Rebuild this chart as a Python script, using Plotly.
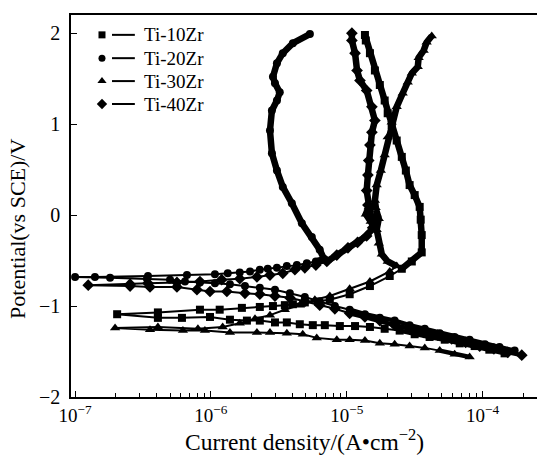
import plotly.graph_objects as go

# ---------------- data (current density in A/cm^2, potential in V vs SCE) ----------------
# Each curve: cathodic branch (from most negative potential up to Ecorr) + anodic branch
series_names = ["Ti-10Zr", "Ti-20Zr", "Ti-30Zr", "Ti-40Zr"]
symbols = ["square", "circle", "triangle-up", "diamond"]

i10_cath = [1.45e-4, 1.12e-4, 8.73e-5, 6.78e-5, 5.26e-5, 4.07e-5, 3.16e-5, 2.45e-5, 1.90e-5, 1.48e-5,
            1.15e-5, 8.89e-6, 6.89e-6, 5.62e-6, 4.51e-6, 3.62e-6, 2.96e-6, 2.29e-6, 1.84e-6, 1.38e-6,
            9.84e-7, 6.12e-7, 4.07e-7, 2.04e-7]
E10_cath = [-1.52, -1.48, -1.44, -1.41, -1.37, -1.34, -1.31, -1.27, -1.25, -1.23,
            -1.22, -1.22, -1.21, -1.21, -1.20, -1.18, -1.18, -1.16, -1.16, -1.15,
            -1.12, -1.13, -1.13, -1.09]
i10_anod = [4.07e-7, 8.30e-7, 1.16e-6, 1.69e-6, 2.29e-6, 2.86e-6, 3.50e-6, 4.01e-6, 4.91e-6, 6.12e-6,
            7.50e-6, 1.05e-5, 1.48e-5, 2.07e-5, 2.54e-5, 3.01e-5, 3.56e-5, 3.56e-5, 3.50e-5, 3.44e-5,
            3.16e-5, 2.90e-5, 2.72e-5, 2.54e-5, 2.33e-5, 2.14e-5, 2.00e-5, 1.90e-5, 1.75e-5, 1.61e-5,
            1.48e-5, 1.38e-5, 1.36e-5]
E10_anod = [-1.07, -1.04, -1.04, -1.02, -1.01, -1.00, -0.99, -0.98, -0.96, -0.95,
            -0.93, -0.87, -0.78, -0.67, -0.59, -0.51, -0.41, -0.22, -0.05, 0.09,
            0.22, 0.33, 0.49, 0.64, 0.82, 0.99, 1.12, 1.26, 1.43, 1.59,
            1.78, 1.92, 1.98]

i20_cath = [1.72e-4, 1.33e-4, 1.04e-4, 8.02e-5, 6.22e-5, 4.83e-5, 3.75e-5, 2.90e-5, 2.25e-5, 1.75e-5,
            1.36e-5, 1.05e-5, 8.17e-6, 6.32e-6, 4.91e-6, 3.81e-6, 2.96e-6, 2.29e-6, 1.78e-6, 1.38e-6,
            1.07e-6, 8.30e-7, 6.44e-7, 5.00e-7, 3.38e-7, 1.81e-7, 1.00e-7]
E20_cath = [-1.49, -1.45, -1.42, -1.37, -1.34, -1.30, -1.25, -1.21, -1.16, -1.13,
            -1.09, -1.04, -1.00, -0.95, -0.90, -0.86, -0.82, -0.80, -0.78, -0.76,
            -0.75, -0.74, -0.73, -0.71, -0.70, -0.69, -0.68]
i20_anod = [1.40e-7, 3.44e-7, 6.66e-7, 1.07e-6, 1.33e-6, 1.63e-6, 1.94e-6, 2.29e-6, 2.62e-6, 3.06e-6,
            3.62e-6, 4.29e-6, 5.08e-6, 5.92e-6, 6.78e-6, 6.32e-6, 5.53e-6, 4.67e-6, 3.94e-6, 3.38e-6,
            3.06e-6, 2.81e-6, 2.72e-6, 2.81e-6, 3.06e-6, 3.21e-6, 2.96e-6, 2.86e-6, 3.06e-6, 3.38e-6,
            4.01e-6, 5.35e-6]
E20_anod = [-0.68, -0.67, -0.66, -0.65, -0.64, -0.63, -0.62, -0.60, -0.59, -0.58,
            -0.56, -0.55, -0.53, -0.51, -0.48, -0.38, -0.24, -0.09, 0.13, 0.31,
            0.49, 0.68, 0.93, 1.15, 1.26, 1.35, 1.45, 1.52, 1.67, 1.78,
            1.89, 1.99]

i30_cath = [8.02e-5, 6.22e-5, 4.83e-5, 3.75e-5, 2.90e-5, 2.25e-5, 1.75e-5, 1.36e-5, 1.05e-5, 8.44e-6,
            6.01e-6, 4.74e-6, 3.62e-6, 2.72e-6, 2.18e-6, 1.38e-6, 9.03e-7, 6.22e-7, 3.56e-7, 1.97e-7]
E30_cath = [-1.56, -1.53, -1.49, -1.46, -1.44, -1.42, -1.41, -1.38, -1.37, -1.37,
            -1.35, -1.31, -1.30, -1.29, -1.29, -1.29, -1.27, -1.27, -1.26, -1.24]
i30_anod = [4.07e-7, 8.02e-7, 1.22e-6, 1.63e-6, 2.11e-6, 2.72e-6, 3.50e-6, 4.51e-6, 5.82e-6, 7.50e-6,
            1.05e-5, 1.48e-5, 2.07e-5, 2.33e-5, 2.00e-5, 1.81e-5, 1.72e-5, 1.66e-5, 1.72e-5, 1.63e-5,
            1.45e-5, 1.38e-5, 1.50e-5, 1.66e-5, 1.61e-5, 1.66e-5, 1.78e-5, 1.90e-5, 2.00e-5, 2.14e-5,
            2.33e-5, 2.58e-5, 2.81e-5, 3.01e-5, 3.33e-5, 3.38e-5, 3.68e-5, 3.87e-5, 4.22e-5]
E30_anod = [-1.23, -1.25, -1.23, -1.19, -1.14, -1.10, -1.04, -0.99, -0.93, -0.89,
            -0.81, -0.73, -0.62, -0.56, -0.51, -0.43, -0.31, -0.16, -0.04, 0.08,
            0.09, 0.01, -0.07, 0.01, 0.16, 0.33, 0.49, 0.66, 0.86, 1.02,
            1.19, 1.34, 1.46, 1.56, 1.63, 1.73, 1.81, 1.90, 1.97]

i40_cath = [1.94e-4, 1.53e-4, 1.21e-4, 9.51e-5, 7.50e-5, 5.92e-5, 4.67e-5, 3.68e-5, 2.90e-5, 2.25e-5,
            1.75e-5, 1.36e-5, 1.05e-5, 8.17e-6, 6.32e-6, 4.91e-6, 3.81e-6, 2.96e-6, 2.29e-6, 1.78e-6,
            1.31e-6, 9.84e-7, 7.89e-7, 5.62e-7, 3.56e-7, 2.54e-7, 1.25e-7]
E40_cath = [-1.54, -1.51, -1.47, -1.44, -1.40, -1.36, -1.32, -1.29, -1.25, -1.21,
            -1.16, -1.12, -1.08, -1.03, -0.99, -0.95, -0.91, -0.89, -0.87, -0.86,
            -0.84, -0.84, -0.82, -0.79, -0.79, -0.78, -0.77]
i40_anod = [2.54e-7, 3.44e-7, 5.62e-7, 8.30e-7, 1.20e-6, 1.63e-6, 2.18e-6, 2.72e-6, 3.38e-6, 4.15e-6,
            4.91e-6, 5.92e-6, 7.13e-6, 8.44e-6, 1.02e-5, 1.20e-5, 1.40e-5, 1.55e-5, 1.50e-5, 1.43e-5,
            1.40e-5, 1.43e-5, 1.45e-5, 1.48e-5, 1.53e-5, 1.61e-5, 1.53e-5, 1.40e-5, 1.25e-5, 1.19e-5,
            1.15e-5, 1.09e-5, 1.09e-5]
E40_anod = [-0.76, -0.75, -0.74, -0.73, -0.71, -0.70, -0.68, -0.66, -0.64, -0.60,
            -0.58, -0.55, -0.51, -0.44, -0.36, -0.30, -0.23, -0.14, -0.03, 0.11,
            0.27, 0.44, 0.60, 0.77, 0.91, 1.04, 1.19, 1.37, 1.48, 1.59,
            1.78, 1.92, 2.00]

x_tick_vals = [1e-7, 1e-6, 1e-5, 1e-4]
x_tick_text = ["10<sup>\u22127</sup>", "10<sup>\u22126</sup>", "10<sup>\u22125</sup>", "10<sup>\u22124</sup>"]
y_tick_vals = [-2, -1, 0, 1, 2]
x_title = "Current density/(A\u2022cm<sup>\u22122</sup>)"
y_title = "Potential(vs SCE)/V"

# ---------------- figure ----------------
# (cathodic i, cathodic E, anodic i, anodic E, dense cathodic count, dense anodic start)
curves = [
    (i10_cath, E10_cath, i10_anod, E10_anod, 8, 14),
    (i20_cath, E20_cath, i20_anod, E20_anod, 12, 13),
    (i30_cath, E30_cath, i30_anod, E30_anod, 3, 13),
    (i40_cath, E40_cath, i40_anod, E40_anod, 13, 12),
]
marker_sizes = [8, 8, 9, 9]

fig = go.Figure()
for (ic, Ec, ia, Ea, m, k), name, sym, ms in zip(curves, series_names, symbols, marker_sizes):
    # densely sampled parts (markers merge into a heavy line)
    fig.add_trace(go.Scatter(x=ia[k:], y=Ea[k:], mode="lines",
                             line=dict(color="black", width=6.5), hoverinfo="skip"))
    fig.add_trace(go.Scatter(x=ic[:m], y=Ec[:m], mode="lines",
                             line=dict(color="black", width=4.5), hoverinfo="skip"))
    fig.add_trace(go.Scatter(x=ic + ia, y=Ec + Ea, mode="lines+markers", name=name,
                             line=dict(color="black", width=2),
                             marker=dict(symbol=sym, size=ms, color="black")))

# custom legend (marker, then a short line, then the label)
leg_rows = [0.948, 0.887, 0.827, 0.767]
for name, sym, ms, yy in zip(series_names, symbols, marker_sizes, leg_rows):
    fig.add_trace(go.Scatter(x=[0.0665], y=[yy], mode="markers", xaxis="x2", yaxis="y2",
                             marker=dict(symbol=sym, size=ms - 1, color="black"), hoverinfo="skip"))
    fig.add_trace(go.Scatter(x=[0.088, 0.137], y=[yy, yy], mode="lines", xaxis="x2", yaxis="y2",
                             line=dict(color="black", width=2), hoverinfo="skip"))
    fig.add_annotation(x=0.152, y=yy, xref="paper", yref="paper", text=name, showarrow=False,
                       xanchor="left", yanchor="middle", font=dict(size=19, color="black"))

# axis titles
fig.add_annotation(x=0.5, y=-0.1126, xref="paper", yref="paper", text=x_title, showarrow=False,
                   xanchor="center", yanchor="middle", font=dict(size=23.5, color="black"))
fig.add_annotation(x=-0.1137, y=0.44, xref="paper", yref="paper", text=y_title, showarrow=False,
                   textangle=-90, xanchor="center", yanchor="middle", font=dict(size=22, color="black"))

fig.update_layout(
    width=537, height=457,
    margin=dict(l=71, r=0, t=15, b=60),
    plot_bgcolor="white", paper_bgcolor="white",
    showlegend=False,
    font=dict(family="Liberation Serif", color="black"),
    xaxis=dict(type="log", range=[-7.03, -3.6], tickvals=x_tick_vals, ticktext=x_tick_text,
               ticks="inside", ticklen=6, tickwidth=1.2, tickcolor="black",
               showline=True, linecolor="black", linewidth=1.5, mirror=True,
               showgrid=False, zeroline=False, tickfont=dict(size=19),
               minor=dict(ticks="inside", ticklen=4, dtick="D1", tickcolor="black", showgrid=False)),
    yaxis=dict(range=[-2, 2.2], tickvals=y_tick_vals, ticks="inside", ticklen=6, tickwidth=1.2,
               tickcolor="black", showline=True, linecolor="black", linewidth=1.5,
               showgrid=False, zeroline=False, tickfont=dict(size=20), ticklabelstandoff=5),
    xaxis2=dict(overlaying="x", range=[0, 1], visible=False),
    yaxis2=dict(overlaying="y", range=[0, 1], visible=False),
)

fig.write_html("out.html", config={"displayModeBar": False},
               post_script="document.body.style.margin='0px';document.body.style.padding='0px';")
